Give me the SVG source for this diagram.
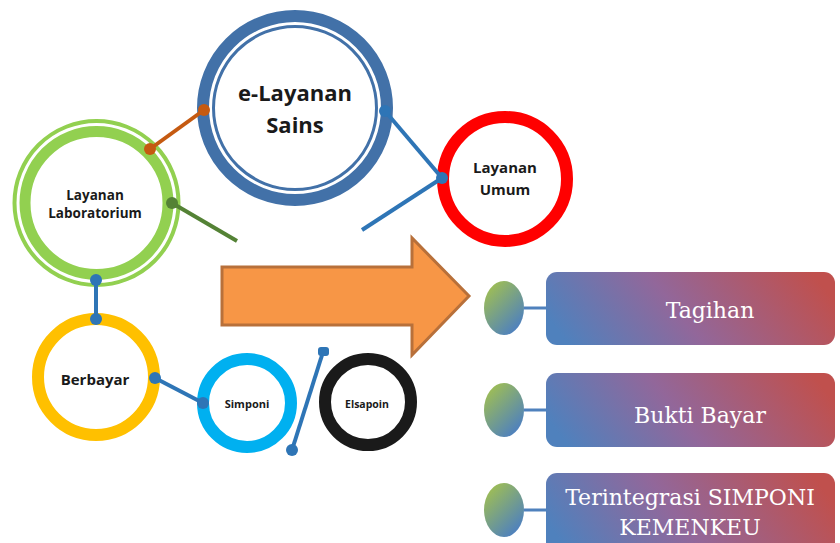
<svg xmlns="http://www.w3.org/2000/svg" width="840" height="543" viewBox="0 0 840 543">
<defs>
<linearGradient id="boxg" x1="0" y1="0.6" x2="1" y2="0.4">
<stop offset="0" stop-color="#4f81bd"/>
<stop offset="0.45" stop-color="#92679a"/>
<stop offset="1" stop-color="#c0504d"/>
</linearGradient>
<linearGradient id="ellg" x1="0.2" y1="0.1" x2="0.8" y2="0.9">
<stop offset="0" stop-color="#9bbb59"/>
<stop offset="1" stop-color="#4f81bd"/>
</linearGradient>
<style>
.ring{fill:none}
.lbl{font-family:"Open Sans","Liberation Sans",sans-serif;font-weight:700;fill:#1a1a1a;text-anchor:middle}
.btxt{font-family:"DejaVu Serif","Liberation Serif",serif;font-size:22px;fill:#ffffff;text-anchor:middle}
.bl{stroke:#2e75b6;stroke-width:4;fill:none}
.bd{fill:#2e75b6}
.box{fill:url(#boxg)}
.ell{fill:url(#ellg)}
.link{stroke:#4f81bd;stroke-width:3}
</style>
</defs>
<g id="node-elayanan">
<circle class="ring" cx="295" cy="108" r="92" stroke="#4271a8" stroke-width="12"/>
<circle class="ring" cx="295" cy="108" r="81.5" stroke="#4271a8" stroke-width="3"/>
<text class="lbl" x="295" y="101" font-size="22">e-Layanan</text>
<text class="lbl" x="295" y="133" font-size="22">Sains</text>
</g>
<g id="node-lab">
<circle class="ring" cx="96.5" cy="203" r="82" stroke="#92d050" stroke-width="4"/>
<circle class="ring" cx="96.5" cy="203" r="71.5" stroke="#92d050" stroke-width="11"/>
<text class="lbl" x="95" y="200" font-size="13.5">Layanan</text>
<text class="lbl" x="95" y="218" font-size="13.5">Laboratorium</text>
</g>
<g id="node-umum">
<circle class="ring" cx="505" cy="179" r="62" stroke="#ff0000" stroke-width="12"/>
<text class="lbl" x="505" y="173" font-size="15">Layanan</text>
<text class="lbl" x="505" y="195" font-size="15">Umum</text>
</g>
<g id="node-berbayar">
<circle class="ring" cx="96" cy="377" r="58" stroke="#ffc000" stroke-width="12"/>
<text class="lbl" x="95" y="385" font-size="15">Berbayar</text>
</g>
<g id="node-simponi">
<circle class="ring" cx="247" cy="403" r="44" stroke="#00b0f0" stroke-width="12"/>
<text class="lbl" x="247" y="408" font-size="11">Simponi</text>
</g>
<g id="node-elsapoin">
<circle class="ring" cx="368" cy="402" r="43" stroke="#1a1a1a" stroke-width="12"/>
<text class="lbl" x="367" y="408" font-size="10.5">Elsapoin</text>
</g>
<g id="arrow">
<polygon points="222,267 412,267 412,238 469,296 412,355 412,325 222,325" fill="#f79646" stroke="#b8703a" stroke-width="3" stroke-linejoin="miter"/>
</g>
<g id="item-tagihan">
<ellipse class="ell" cx="504" cy="308" rx="20" ry="27"/>
<rect class="box" x="546" y="272" width="289" height="73" rx="11"/>
<text class="btxt" x="710" y="318">Tagihan</text>
</g>
<g id="item-bukti">
<ellipse class="ell" cx="504" cy="410" rx="20" ry="27"/>
<rect class="box" x="546" y="373" width="289" height="74" rx="11"/>
<text class="btxt" x="700" y="423">Bukti Bayar</text>
</g>
<g id="item-simponi">
<ellipse class="ell" cx="504" cy="510" rx="20" ry="27"/>
<rect class="box" x="546" y="473" width="289" height="80" rx="11"/>
<text class="btxt" x="690" y="505">Terintegrasi SIMPONI</text>
<text class="btxt" x="690" y="535">KEMENKEU</text>
</g>
<g id="connectors">
<line x1="150" y1="149" x2="204" y2="110" stroke="#c55a11" stroke-width="4"/>
<circle cx="150" cy="149" r="6" fill="#c55a11"/>
<circle cx="204" cy="110" r="6" fill="#c55a11"/>
<line x1="172" y1="203" x2="237" y2="241" stroke="#548235" stroke-width="4"/>
<circle cx="172" cy="203" r="6" fill="#548235"/>
<line class="bl" x1="385" y1="111" x2="442" y2="178"/>
<line class="bl" x1="442" y1="178" x2="362" y2="230"/>
<circle class="bd" cx="385" cy="111" r="6"/>
<circle class="bd" cx="442" cy="178" r="6"/>
<line class="bl" x1="96" y1="280" x2="96" y2="319"/>
<circle class="bd" cx="96" cy="280" r="6"/>
<circle class="bd" cx="96" cy="319" r="6"/>
<line class="bl" x1="155" y1="378" x2="203" y2="403"/>
<circle class="bd" cx="155" cy="378" r="6"/>
<circle class="bd" cx="203" cy="403" r="6"/>
<line class="bl" x1="323" y1="352" x2="292" y2="450"/>
<rect class="bd" x="318" y="347" width="11" height="9" rx="3"/>
<circle class="bd" cx="292" cy="450" r="6"/>
<line class="link" x1="524" y1="308" x2="547" y2="308"/>
<line class="link" x1="524" y1="410" x2="547" y2="410"/>
<line class="link" x1="524" y1="510" x2="547" y2="510"/>
</g>
</svg>
